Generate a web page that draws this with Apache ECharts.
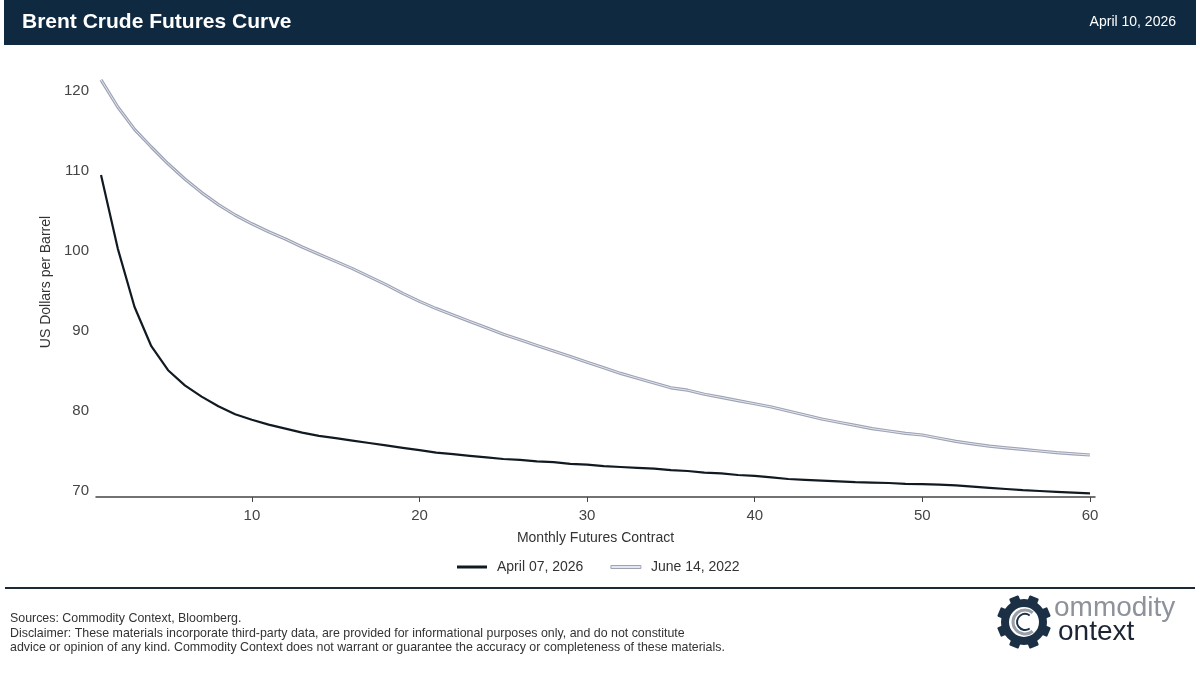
<!DOCTYPE html>
<html>
<head>
<meta charset="utf-8">
<script src="https://cdn.jsdelivr.net/npm/echarts@6/dist/echarts.min.js"></script>
<style>
html,body{margin:0;padding:0;background:#fff;}
#chart{width:1200px;height:673px;}
</style>
</head>
<body>
<div id="chart"></div>
<script>
// ---- data ----
const months = [];
for (let m = 1; m <= 60; m++) months.push(m);

const apr2026 = [109.5,100.3,93.0,88.1,85.1,83.2,81.8,80.6,79.6,78.9,
  78.3,77.8,77.3,76.9,76.6,76.3,76.0,75.7,75.4,75.1,
  74.8,74.6,74.4,74.2,74.0,73.9,73.7,73.6,73.4,73.3,
  73.1,73.0,72.9,72.8,72.6,72.5,72.3,72.2,72.0,71.9,
  71.7,71.5,71.4,71.3,71.2,71.1,71.05,71.0,70.9,70.85,
  70.8,70.7,70.55,70.4,70.25,70.1,70.0,69.9,69.8,69.7];

const jun2022 = [121.4,118.0,115.2,113.0,110.9,109.0,107.3,105.8,104.5,103.4,
  102.4,101.5,100.5,99.6,98.7,97.8,96.8,95.8,94.7,93.7,
  92.8,92.0,91.2,90.4,89.6,88.9,88.2,87.5,86.8,86.1,
  85.4,84.7,84.1,83.5,82.9,82.6,82.1,81.7,81.3,80.9,
  80.5,80.0,79.5,79.0,78.6,78.2,77.8,77.5,77.2,77.0,
  76.6,76.2,75.9,75.6,75.4,75.2,75.0,74.8,74.65,74.5];

const xTicks = [10,20,30,40,50,60];
const yTicks = [70,80,90,100,110,120];

const seriesNames = ['April 07, 2026','June 14, 2022'];
const titleText = 'Brent Crude Futures Curve';
const dateText = 'April 10, 2026';

// ---- chart ----
const chart = echarts.init(document.getElementById('chart'), null, {renderer:'canvas'});
const pair = arr => arr.map((v,i)=>[months[i], v]);
const FONT = '"Liberation Sans", Arial, sans-serif';

// gear teeth
const gearCx = 1024, gearCy = 622;
const teeth = [];
for (let k = 0; k < 8; k++) {
  const a = k * Math.PI / 4 + Math.PI/8;
  teeth.push({
    type:'rect',
    x: gearCx, y: gearCy,
    rotation: a,
    shape:{x:-5, y:-27, width:10, height:10, r:1},
    style:{fill:'#1b3045'},
    silent:true
  });
}

const option = {
  backgroundColor:'#fff',
  animation:false,
  textStyle:{fontFamily:FONT},
  grid:{left:96, right:105, top:67, bottom:176, containLabel:false},
  xAxis:{
    type:'value', min:0.7, max:60.3,
    name:'Monthly Futures Contract', nameLocation:'middle', nameGap:34,
    nameTextStyle:{fontSize:14, color:'#333', fontFamily:FONT},
    axisLine:{show:true, lineStyle:{color:'#444', width:1.5}},
    axisTick:{show:true, length:5, customValues:xTicks, lineStyle:{color:'#444'}},
    axisLabel:{customValues:xTicks, fontSize:15, color:'#444', margin:11, fontFamily:FONT},
    splitLine:{show:false}
  },
  yAxis:{
    type:'value', min:69.25, max:123,
    name:'US Dollars per Barrel', nameLocation:'middle', nameGap:41, nameRotate:90,
    nameTextStyle:{fontSize:14, color:'#333', fontFamily:FONT},
    axisLine:{show:false}, axisTick:{show:false},
    axisLabel:{customValues:yTicks, fontSize:15, color:'#444', margin:7, fontFamily:FONT},
    splitLine:{show:false}
  },
  legend:{
    top:555, left:452, itemGap:27, itemWidth:30, itemHeight:3, icon:'rect',
    textStyle:{fontSize:14, color:'#333', fontFamily:FONT, padding:[0,0,0,5]},
    data:[
      {name:seriesNames[0], itemStyle:{color:'#111a22'}},
      {name:seriesNames[1], itemStyle:{color:'#e4e7ef', borderColor:'#9ea3b5', borderWidth:1}}
    ]
  },
  series:[
    {name:seriesNames[0], type:'line', data:pair(apr2026), showSymbol:false, symbol:'none',
     lineStyle:{color:'#111a22', width:2.2}, itemStyle:{color:'#111a22'}, z:3},
    {name:seriesNames[1], type:'line', data:pair(jun2022), showSymbol:false, symbol:'none',
     lineStyle:{color:'#9ea3b5', width:3.2}, itemStyle:{color:'#9ea3b5'}, z:2},
    {name:seriesNames[1], type:'line', data:pair(jun2022), showSymbol:false, symbol:'none',
     lineStyle:{color:'#e4e7ef', width:1}, itemStyle:{color:'#e4e7ef'}, z:2.5}
  ],
  graphic:[
    {type:'rect', shape:{x:4, y:0, width:1192, height:45}, style:{fill:'#0f2a40'}, silent:true},
    {type:'text', x:22, y:22, style:{text:titleText, fill:'#fff', font:'bold 21px '+FONT, textVerticalAlign:'middle'}, silent:true},
    {type:'text', x:1176, y:22, style:{text:dateText, fill:'#fff', font:'14px '+FONT, textAlign:'right', textVerticalAlign:'middle'}, silent:true},
    {type:'rect', shape:{x:5, y:587, width:1190, height:2}, style:{fill:'#1c2a38'}, silent:true},
    {type:'text', x:10, y:619, style:{text:'Sources: Commodity Context, Bloomberg.', fill:'#333', font:'12.4px '+FONT, textVerticalAlign:'middle'}, silent:true},
    {type:'text', x:10, y:634, style:{text:'Disclaimer: These materials incorporate third-party data, are provided for informational purposes only, and do not constitute', fill:'#333', font:'12.4px '+FONT, textVerticalAlign:'middle'}, silent:true},
    {type:'text', x:10, y:648, style:{text:'advice or opinion of any kind. Commodity Context does not warrant or guarantee the accuracy or completeness of these materials.', fill:'#333', font:'12.4px '+FONT, textVerticalAlign:'middle'}, silent:true},
    // logo
    ...teeth,
    {type:'circle', shape:{cx:gearCx, cy:gearCy, r:19}, style:{fill:'#fff', stroke:'#1b3045', lineWidth:8}, silent:true},
    {type:'arc', shape:{cx:gearCx+1, cy:gearCy, r:12, startAngle:Math.PI*0.28, endAngle:Math.PI*1.72, clockwise:true}, style:{fill:'none', stroke:'#9aa0aa', lineWidth:3}, silent:true},
    {type:'arc', shape:{cx:gearCx+1, cy:gearCy, r:8, startAngle:Math.PI*0.3, endAngle:Math.PI*1.7, clockwise:true}, style:{fill:'none', stroke:'#1b3045', lineWidth:2}, silent:true},
    {type:'text', x:1054, y:622, style:{text:'ommodity', fill:'#8d929b', font:'28px '+FONT, textVerticalAlign:'bottom'}, silent:true},
    {type:'text', x:1058, y:646, style:{text:'ontext', fill:'#1b2533', font:'28px '+FONT, textVerticalAlign:'bottom'}, silent:true}
  ]
};
chart.setOption(option);
</script>
</body>
</html>
